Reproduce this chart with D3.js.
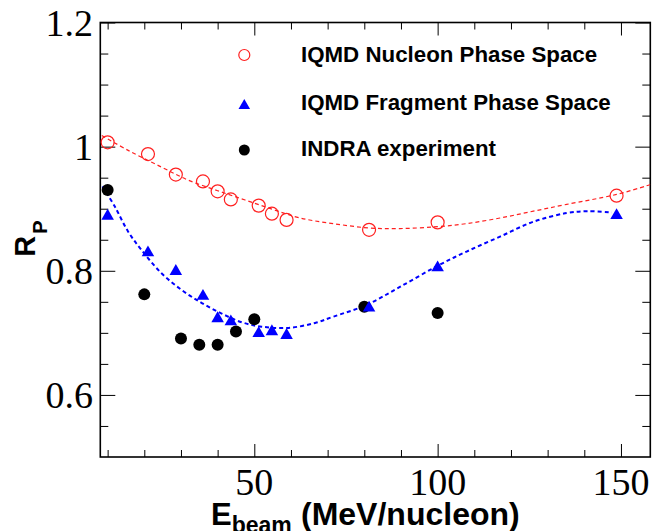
<!DOCTYPE html>
<html><head><meta charset="utf-8">
<script src="https://cdn.jsdelivr.net/npm/d3@7"></script>
<style>body{margin:0;background:#fff} svg{display:block}</style>
</head><body>
<svg id="c" width="667" height="531"></svg>
<script>
// ---- data ----
const nucleonE  = [10, 21, 28.6, 36, 40, 43.6, 51.2, 54.8, 58.8, 81.3, 100, 148.8];
const nucleonR  = [1.007, 0.988, 0.955, 0.944, 0.928, 0.915, 0.905, 0.892, 0.882, 0.866, 0.878, 0.921];
const fragmentE = [10, 21, 28.6, 36, 40, 43.6, 51.2, 54.8, 58.8, 81.3, 100, 148.8];
const fragmentR = [0.891, 0.832, 0.802, 0.762, 0.726, 0.721, 0.702, 0.705, 0.699, 0.743, 0.808, 0.892];
const indraE    = [10, 20, 30, 35, 40, 45, 50, 80, 100];
const indraR    = [0.930, 0.762, 0.691, 0.681, 0.681, 0.702, 0.722, 0.742, 0.732];

// fitted curves
const nucleonFitE = [8.4, 15.6, 24.7, 32, 40, 47.5, 55, 62.5, 71.5, 81.3, 89.7, 99.9, 107.9, 117, 126.1, 135.2, 148.8, 157, 158];
const nucleonFitR = [1.018, 0.994, 0.967, 0.946, 0.929, 0.914, 0.899, 0.885, 0.876, 0.869, 0.868, 0.871, 0.876, 0.885, 0.896, 0.907, 0.923, 0.937, 0.939];
const fragmentFitE = [8.6, 12, 15.6, 19.3, 24.7, 30.2, 35.7, 41.1, 46.6, 52, 59.3, 66.6, 71.5, 80.6, 89.7, 100, 107.9, 117, 126.1, 135.2, 141, 147.5];
const fragmentFitR = [0.936, 0.903, 0.863, 0.833, 0.796, 0.769, 0.748, 0.731, 0.717, 0.710, 0.708, 0.716, 0.726, 0.745, 0.774, 0.808, 0.831, 0.855, 0.879, 0.893, 0.896, 0.894];

const xMajor = [50, 100, 150];
const xMinor = [10, 20, 30, 40, 60, 70, 80, 90, 110, 120, 130, 140];
const yMajor = [0.6, 0.8, 1.0, 1.2];
const yMajorLabels = ["0.6", "0.8", "1", "1.2"];
const yMinor = [0.55, 0.65, 0.7, 0.75, 0.85, 0.9, 0.95, 1.05, 1.1, 1.15];
const legendLabels = ["IQMD Nucleon Phase Space", "IQMD Fragment Phase Space", "INDRA experiment"];

// ---- layout ----
const L = 100.3, R = 650.3, T = 22.5, B = 457;
const svg = d3.select("#c");
const x = d3.scaleLinear([8, 158], [L, R]);
const y = d3.scaleLinear([0.5, 1.2], [B, T]);

const serif = "'Liberation Serif', 'Times New Roman', serif";
const sans = "'Liberation Sans', Arial, Helvetica, sans-serif";

function ticks(axisGen, tr, vals, size) {
  const g = svg.append("g").attr("transform", tr)
    .call(axisGen.tickValues(vals).tickSize(size).tickFormat(""));
  g.select(".domain").remove();
  g.selectAll("line").attr("stroke", "#000").attr("stroke-width", 1);
  return g;
}
ticks(d3.axisBottom(x), `translate(0,${B})`, xMinor, -7);
ticks(d3.axisBottom(x), `translate(0,${B})`, xMajor, -13);
ticks(d3.axisTop(x), `translate(0,${T})`, xMinor, -7);
ticks(d3.axisTop(x), `translate(0,${T})`, xMajor, -13);
ticks(d3.axisLeft(y), `translate(${L},0)`, yMinor, -8);
ticks(d3.axisLeft(y), `translate(${L},0)`, yMajor, -15);
ticks(d3.axisRight(y), `translate(${R},0)`, yMinor, -8);
ticks(d3.axisRight(y), `translate(${R},0)`, yMajor, -15);

// tick labels
svg.append("g").selectAll("text").data(xMajor).join("text")
  .attr("x", d => x(d)).attr("y", 494.5)
  .attr("text-anchor", "middle")
  .style("font-family", serif).style("font-size", "38px")
  .text(d => d);
svg.append("g").selectAll("text").data(yMajor).join("text")
  .attr("x", 93).attr("y", d => y(d) + 13.5)
  .attr("text-anchor", "end")
  .style("font-family", serif).style("font-size", "38px")
  .text((d, i) => yMajorLabels[i]);

// frame
svg.append("rect").attr("x", L).attr("y", T).attr("width", R - L).attr("height", B - T)
  .attr("fill", "none").attr("stroke", "#000").attr("stroke-width", 1.6);

// clip
svg.append("clipPath").attr("id", "clip").append("rect")
  .attr("x", L).attr("y", T).attr("width", R - L).attr("height", B - T);

const line = d3.line().x(d => x(d[0])).y(d => y(d[1])).curve(d3.curveCatmullRom);
svg.append("path").attr("clip-path", "url(#clip)")
  .attr("d", line(d3.zip(nucleonFitE, nucleonFitR)))
  .attr("fill", "none").attr("stroke", "#ff2020").attr("stroke-width", 1.2)
  .attr("stroke-dasharray", "4,3");
svg.append("path").attr("clip-path", "url(#clip)")
  .attr("d", line(d3.zip(fragmentFitE, fragmentFitR)))
  .attr("fill", "none").attr("stroke", "#0000ff").attr("stroke-width", 2)
  .attr("stroke-dasharray", "4,3");

// markers
const tri = d3.symbol().type(d3.symbolTriangle).size(68);
const triLeg = d3.symbol().type(d3.symbolTriangle).size(58);
svg.append("g").selectAll("circle").data(d3.zip(indraE, indraR)).join("circle")
  .attr("cx", d => x(d[0])).attr("cy", d => y(d[1])).attr("r", 6).attr("fill", "#000");
svg.append("g").selectAll("path").data(d3.zip(fragmentE, fragmentR)).join("path")
  .attr("d", tri).attr("transform", d => `translate(${x(d[0])},${y(d[1]) + 1.8})`)
  .attr("fill", "#0000ff");
svg.append("g").selectAll("circle").data(d3.zip(nucleonE, nucleonR)).join("circle")
  .attr("cx", d => x(d[0])).attr("cy", d => y(d[1])).attr("r", 6.5)
  .attr("fill", "none").attr("stroke", "#ff2020").attr("stroke-width", 1.2);

// legend
const legY = [55, 104, 150];
const legBase = [62.3, 110, 156];
const lg = svg.append("g");
lg.append("circle").attr("cx", 244.3).attr("cy", legY[0]).attr("r", 5.5)
  .attr("fill", "none").attr("stroke", "#ff2020").attr("stroke-width", 1.2);
lg.append("path").attr("d", triLeg).attr("transform", `translate(244.3,${legY[1] + 1.6})`).attr("fill", "#0000ff");
lg.append("circle").attr("cx", 244.3).attr("cy", legY[2]).attr("r", 5.5).attr("fill", "#000");
lg.selectAll("text").data(legendLabels).join("text")
  .attr("x", 301).attr("y", (d, i) => legBase[i])
  .style("font-family", sans).style("font-weight", "bold").style("font-size", "22.3px")
  .text(d => d);

// axis titles
const yt = svg.append("text").attr("transform", "translate(35,256.7) rotate(-90)")
  .style("font-family", sans).style("font-weight", "bold").style("font-size", "29px");
yt.append("tspan").text("R");
yt.append("tspan").attr("dx", 2).attr("dy", 11.5).style("font-size", "20px").text("P");

const xt = svg.append("text").attr("x", 211).attr("y", 524.5)
  .style("font-family", sans).style("font-weight", "bold").style("font-size", "31px");
xt.append("tspan").text("E");
xt.append("tspan").attr("dy", 8.5).style("font-size", "23px").text("beam");
xt.append("tspan").attr("x", 301).attr("dy", -8.5).style("font-size", "32px").text("(MeV/nucleon)");
</script>
</body></html>
